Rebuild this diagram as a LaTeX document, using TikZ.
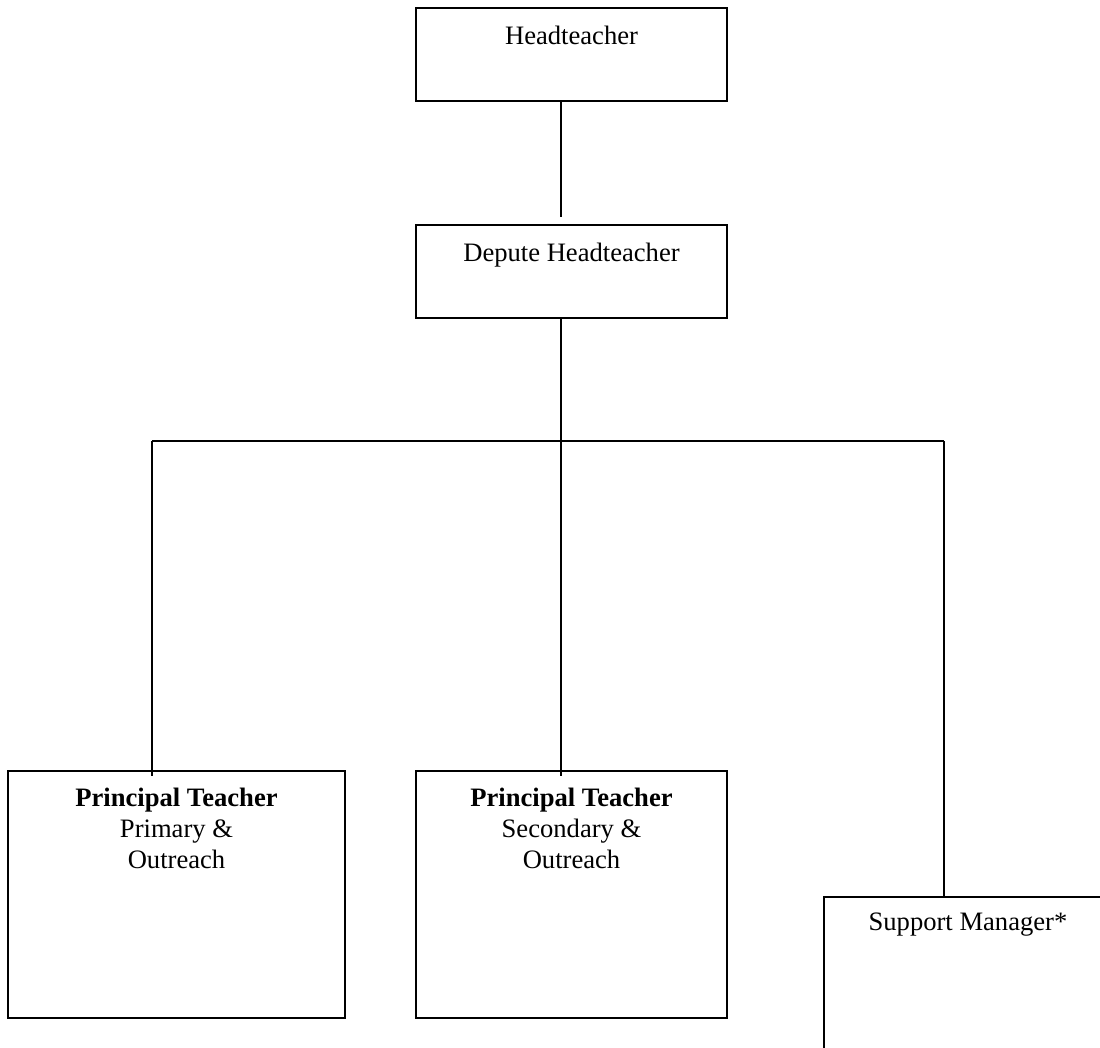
\documentclass[tikz,border=0pt]{standalone}
\usepackage{fontspec}
\setmainfont{Liberation Serif}
\usetikzlibrary{positioning,calc}

\begin{document}
\begin{tikzpicture}[x=0.5pt, y=-0.5pt, line width=1pt, node distance=9pt, box/.style={draw, line width=1pt, inner sep=0pt}, txt/.style={align=center, inner sep=0pt, font=\fontsize{13.3}{15.5}\selectfont}]
\clip (0,0) rectangle (1100,1048);
\node[box, minimum width=155.5pt, minimum height=46.5pt] (head) at (571.5,54.5) {};
\node[txt, below=of head.north] (head-t) {Headteacher};
\node[box, minimum width=155.5pt, minimum height=46.5pt] (dep) at (571.5,271.5) {};
\node[txt, below=of dep.north] (dep-t) {Depute Headteacher};
\node[box, minimum width=168.5pt, minimum height=123.5pt] (pt1) at (176.5,894.5) {};
\node[txt, below=8.5pt of pt1.north] (pt1-t) {\textbf{Principal Teacher}\\Primary \&\\Outreach};
\node[box, minimum width=155.5pt, minimum height=123.5pt] (pt2) at (571.5,894.5) {};
\node[txt, below=8.5pt of pt2.north] (pt2-t) {\textbf{Principal Teacher}\\Secondary \&\\Outreach};
\node[box, minimum width=144pt, minimum height=123.5pt] (sup) at (968,1020.5) {};
\node[txt, below=8pt of sup.north] (sup-t) {Support Manager*};
% connectors
\coordinate (hub) at (561,441);
\coordinate (left) at (152,441);
\coordinate (right) at (944,441);
\draw (head.south -| hub) -- ([yshift=3.5pt]dep.north -| hub);
\draw (dep.south -| hub) -- (hub);
\draw (left) -- (right);
\draw (left) -- ([yshift=-3pt]pt1.north -| left);
\draw (hub) -- ([yshift=-3pt]pt2.north -| hub);
\draw (right) -- (sup.north -| right);
\end{tikzpicture}
\end{document}
